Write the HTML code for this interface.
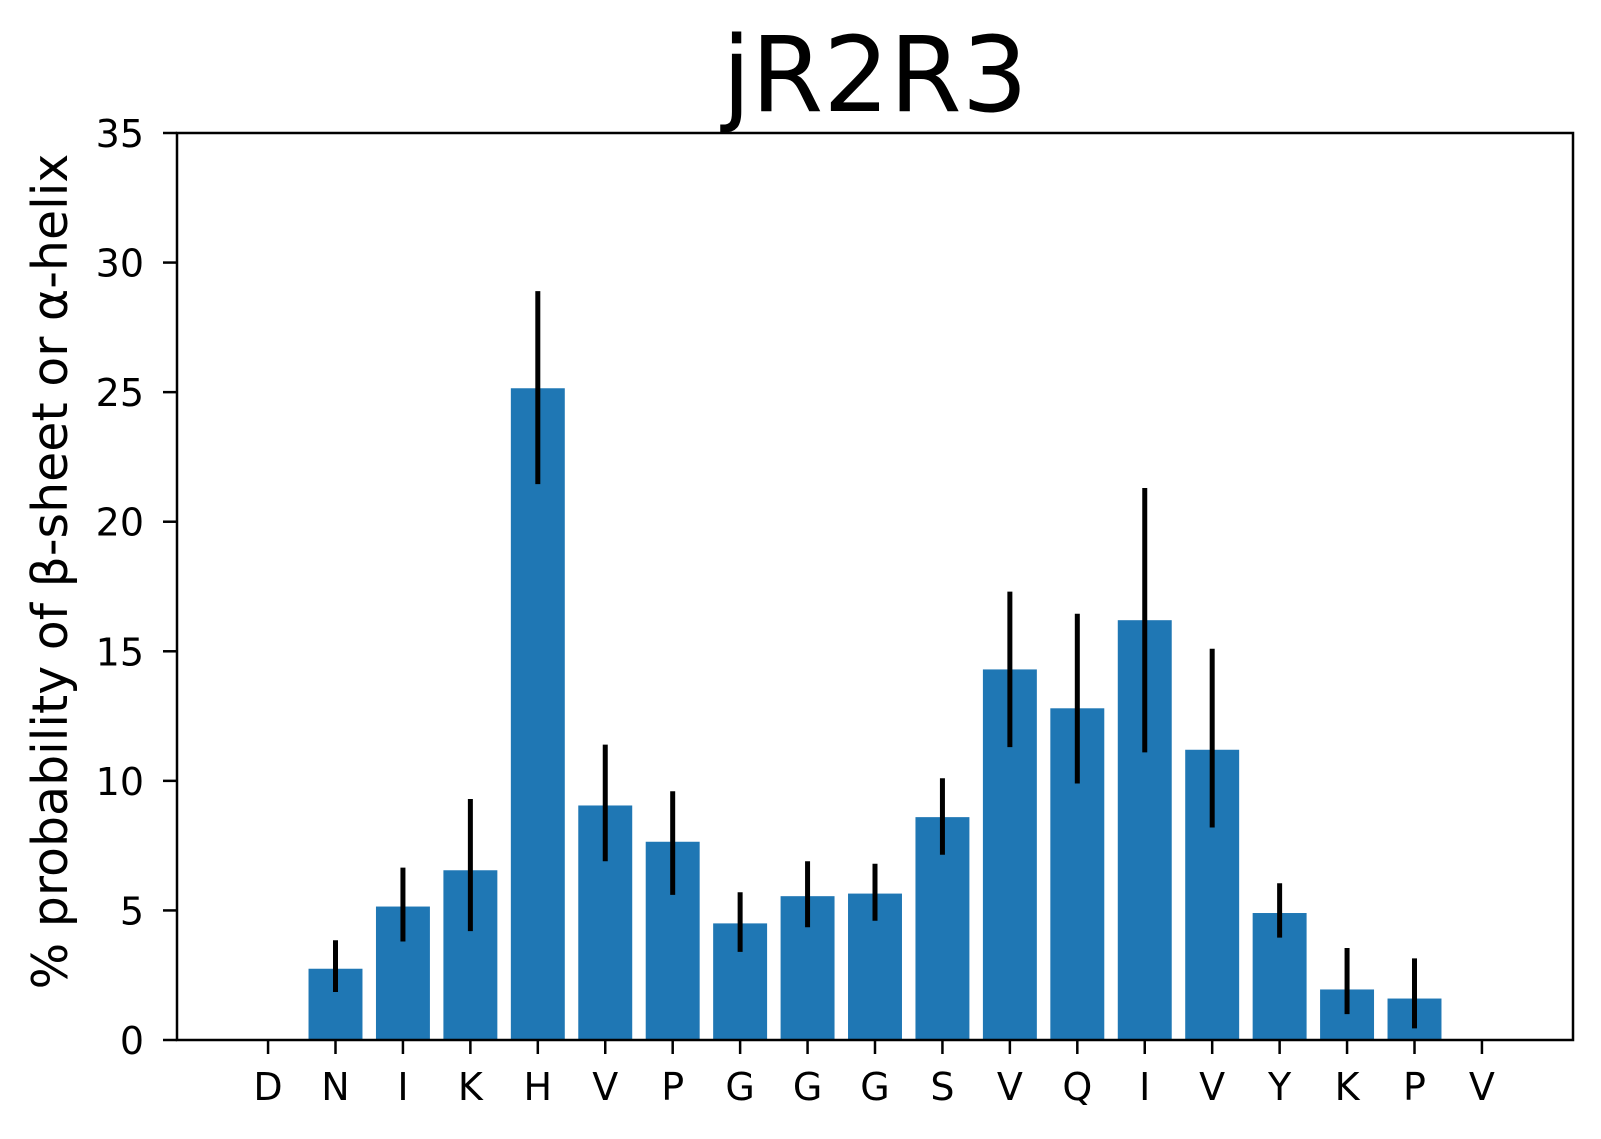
<!DOCTYPE html>
<html><head><meta charset="utf-8"><style>
html,body{margin:0;padding:0;background:#fff;overflow:hidden;}
svg{display:block;font-family:"DejaVu Sans","Liberation Sans",sans-serif;}
</style></head><body>
<svg id="chart" width="1601" height="1139"></svg>
<script>
const categories=["D","N","I","K","H","V","P","G","G","G","S","V","Q","I","V","Y","K","P","V"];
const values=[0,2.75,5.15,6.55,25.15,9.05,7.65,4.5,5.55,5.65,8.6,14.3,12.8,16.2,11.2,4.9,1.95,1.6,0];
const errLow=[null,1.85,3.8,4.2,21.45,6.9,5.6,3.4,4.35,4.6,7.15,11.3,9.9,11.1,8.2,3.95,1.0,0.45,null];
const errHigh=[null,3.85,6.65,9.3,28.9,11.4,9.6,5.7,6.9,6.8,10.1,17.3,16.45,21.3,15.1,6.05,3.55,3.15,null];
const yTicks=[0,5,10,15,20,25,30,35];

const NS="http://www.w3.org/2000/svg";
const svg=document.getElementById('chart');
const L=177,R=1573,T=133,B=1040;
const pad=(268-L)/((1481-268)/18);
const step=(R-L)/(categories.length-1+2*pad);
function xs(i){return L+(i+pad)*step;}
function ys(v){return B-(v/35)*(B-T);}
function mk(tag,attrs,parent){const e=document.createElementNS(NS,tag);for(const k in attrs)e.setAttribute(k,attrs[k]);(parent||svg).appendChild(e);return e;}

const title=mk('text',{x:(L+R)/2,y:111,'text-anchor':'middle','font-size':104});
title.textContent='jR2R3';



const ylab=mk('text',{x:0,y:0,'text-anchor':'middle','font-size':49,transform:`translate(67,${(T+B)/2-15}) rotate(-90)`});
ylab.textContent='% probability of β-sheet or α-helix';



const bw=step*0.8;
values.forEach((v,i)=>{
  if(v<=0)return;
  const r=mk('rect',{x:xs(i)-bw/2,y:ys(v),width:bw,height:ys(0)-ys(v),fill:'#1f77b4'});
  
  
});
values.forEach((v,i)=>{
  if(errLow[i]==null)return;
  const l=mk('line',{x1:xs(i),x2:xs(i),y1:ys(errLow[i]),y2:ys(errHigh[i]),stroke:'#000','stroke-width':5});
  
  
});

const frame=mk('rect',{x:L,y:T,width:R-L,height:B-T,fill:'none',stroke:'#000','stroke-width':2.5});



yTicks.forEach(t=>{
  const y=ys(t);
  mk('line',{x1:L-14,x2:L,y1:y,y2:y,stroke:'#000','stroke-width':2.5});
  const tx=mk('text',{x:L-33,y:y+14,'text-anchor':'end','font-size':38});
  tx.textContent=t;
  
  
});
categories.forEach((c,i)=>{
  const x=xs(i);
  mk('line',{x1:x,x2:x,y1:B,y2:B+14,stroke:'#000','stroke-width':2.5});
  const tx=mk('text',{x:x,y:B+60,'text-anchor':'middle','font-size':38});
  tx.textContent=c;
  
  
});
</script>
</body></html>
